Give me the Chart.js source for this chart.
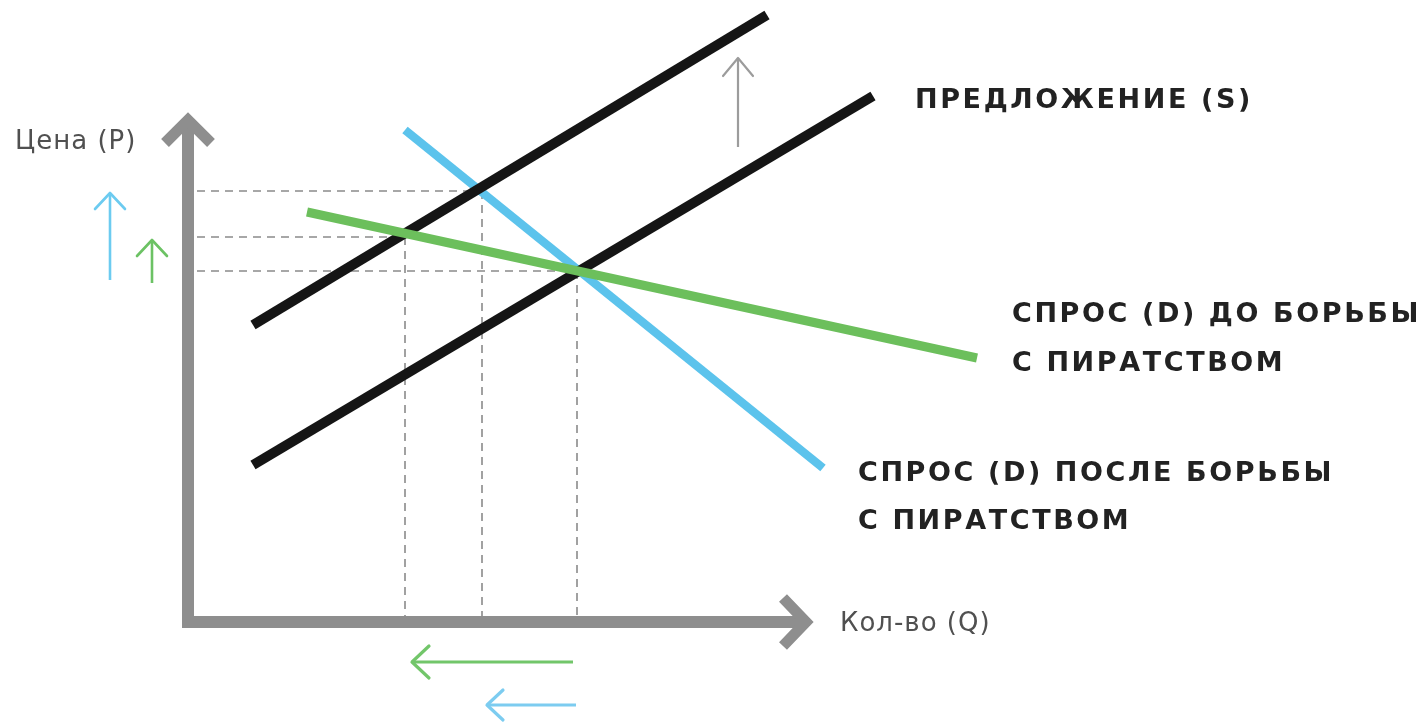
<!DOCTYPE html>
<html><head><meta charset="utf-8">
<script src="https://cdn.jsdelivr.net/npm/chart.js@4.4.1/dist/chart.umd.min.js"></script>
<style>html,body{margin:0;padding:0;background:#fff;overflow:hidden}canvas{display:block}</style>
</head><body>
<canvas id="c" width="1426" height="725"></canvas>
<script>
// ---- Diagram data (quantity Q on x, price P on y, arbitrary units) ----
const supplyBeforeQ = [6.5, 68.5];
const supplyBeforeP = [15.7, 52.6];
const supplyAfterQ  = [6.5, 57.9];
const supplyAfterP  = [29.7, 60.7];
const demandBeforeQ = [11.9, 78.9];   // green: demand before anti-piracy
const demandBeforeP = [41.0, 26.4];
const demandAfterQ  = [21.7, 63.5];   // blue: demand after anti-piracy
const demandAfterP  = [49.2, 15.4];
const equilibriumQ  = [38.9, 21.7, 29.4];
const equilibriumP  = [35.1, 38.5, 43.1];
const axisQEnd = 61.8;
const axisPEnd = 50.2;
// shift arrows: [fromQ, fromP, toQ, toP]
const supplyShiftArrow = [55.0, 47.5, 55.0, 56.4];
const priceUpBlue      = [-7.8, 34.2, -7.8, 42.9];
const priceUpGreen     = [-3.6, 33.9, -3.6, 38.2];
const qtyLeftGreen     = [38.5, -4.0, 22.4, -4.0];
const qtyLeftBlue      = [38.8, -8.3, 29.9, -8.3];
// text labels
const labelTexts = ["Цена (P)", "Кол-во (Q)", "предложение (s)", "спрос (D) до борьбы", "с пиратством", "спрос (D) после борьбы", "с пиратством"];
const labelQ = [-17.3, 65.2, 72.7, 82.4, 82.4, 67.0, 67.0];
const labelP = [48.0, -0.2, 52.4, 31.0, 26.1, 15.1, 10.3];

// ---- helpers ----
const pts = (qs, ps) => qs.map((q, i) => ({x: q, y: ps[i]}));
function line(data, color, width, extra) {
  return Object.assign({data, showLine: true, borderColor: color, backgroundColor: color,
    borderWidth: width, pointRadius: 0, pointHoverRadius: 0, fill: false, tension: 0,
    borderCapStyle: 'butt', borderJoinStyle: 'miter'}, extra || {});
}
function arrow(a, color, width, len, half) {
  const [q0, p0, q1, p1] = a;
  const dq = q1 - q0, dp = p1 - p0, L = Math.hypot(dq, dp);
  const ux = dq / L, uy = dp / L, nx = -uy, ny = ux;
  const bx = q1 - ux * len, by = p1 - uy * len;
  return [
    line([{x: q0, y: p0}, {x: q1, y: p1}], color, width),
    line([{x: bx + nx * half, y: by + ny * half}, {x: q1, y: p1}, {x: bx - nx * half, y: by - ny * half}], color, width, {borderJoinStyle: 'round', borderCapStyle: 'round'})
  ];
}

const grey = '#8e8e8e', dashGrey = '#8a8a8a';
const blue = '#5cc3ec', green = '#6cbf5c', black = '#151515';
const datasets = [];
// dashed guides
equilibriumQ.forEach((q, i) => {
  const p = equilibriumP[i];
  datasets.push(line([{x: 0.9, y: p}, {x: q, y: p}], dashGrey, 1.6, {borderDash: [8, 6]}));
  datasets.push(line([{x: q, y: p}, {x: q, y: 0.6}], dashGrey, 1.6, {borderDash: [8, 6]}));
});
// axes
datasets.push(line([{x: -0.6, y: 0}, {x: axisQEnd - 0.6, y: 0}], grey, 12));
datasets.push(line([{x: 0, y: -0.6}, {x: 0, y: axisPEnd - 0.6}], grey, 12));
datasets.push(line([{x: axisQEnd - 2.3, y: 2.4}, {x: axisQEnd, y: 0}, {x: axisQEnd - 2.3, y: -2.4}], grey, 11));
datasets.push(line([{x: -2.3, y: axisPEnd - 2.3}, {x: 0, y: axisPEnd}, {x: 2.3, y: axisPEnd - 2.3}], grey, 11));
// curves
datasets.push(line(pts(demandAfterQ, demandAfterP), blue, 8.5));
datasets.push(line(pts(supplyBeforeQ, supplyBeforeP), black, 10));
datasets.push(line(pts(supplyAfterQ, supplyAfterP), black, 10));
datasets.push(line(pts(demandBeforeQ, demandBeforeP), green, 9));
// shift arrows
datasets.push(...arrow(supplyShiftArrow, '#9c9c9c', 2.2, 1.8, 1.5));
datasets.push(...arrow(priceUpBlue, '#6ccbf0', 2.6, 1.6, 1.5));
datasets.push(...arrow(priceUpGreen, '#6cc264', 2.6, 1.6, 1.5));
datasets.push(...arrow(qtyLeftGreen, '#72c66a', 3.2, 1.7, 1.6));
datasets.push(...arrow(qtyLeftBlue, '#7cccf0', 3.2, 1.6, 1.5));
datasets.forEach((d, i) => d.order = -i);

const labelPlugin = {
  id: 'diagramLabels',
  afterDatasetsDraw(chart) {
    const {ctx, scales: {x, y}} = chart;
    labelTexts.forEach((t, i) => {
      ctx.save();
      if (i < 2) {
        ctx.font = '26px "DejaVu Sans", sans-serif';
        ctx.fillStyle = '#505050';
        ctx.letterSpacing = '1px';
      } else {
        ctx.font = 'bold 38px "DejaVu Sans", sans-serif';
        ctx.fontVariantCaps = 'all-small-caps';
        ctx.fillStyle = '#222';
        ctx.letterSpacing = '2.6px';
      }
      ctx.textAlign = 'left';
      ctx.textBaseline = 'middle';
      ctx.fillText(t, x.getPixelForValue(labelQ[i]), y.getPixelForValue(labelP[i]));
      ctx.restore();
    });
  }
};

new Chart(document.getElementById('c'), {
  type: 'scatter',
  data: {datasets},
  options: {
    responsive: false, animation: false,
    layout: {padding: 0},
    plugins: {legend: {display: false}, tooltip: {enabled: false}},
    scales: {
      x: {type: 'linear', display: false, min: -18.8, max: 123.8},
      y: {type: 'linear', display: false, min: -10.3, max: 62.2}
    }
  },
  plugins: [labelPlugin]
});
</script>
</body></html>
